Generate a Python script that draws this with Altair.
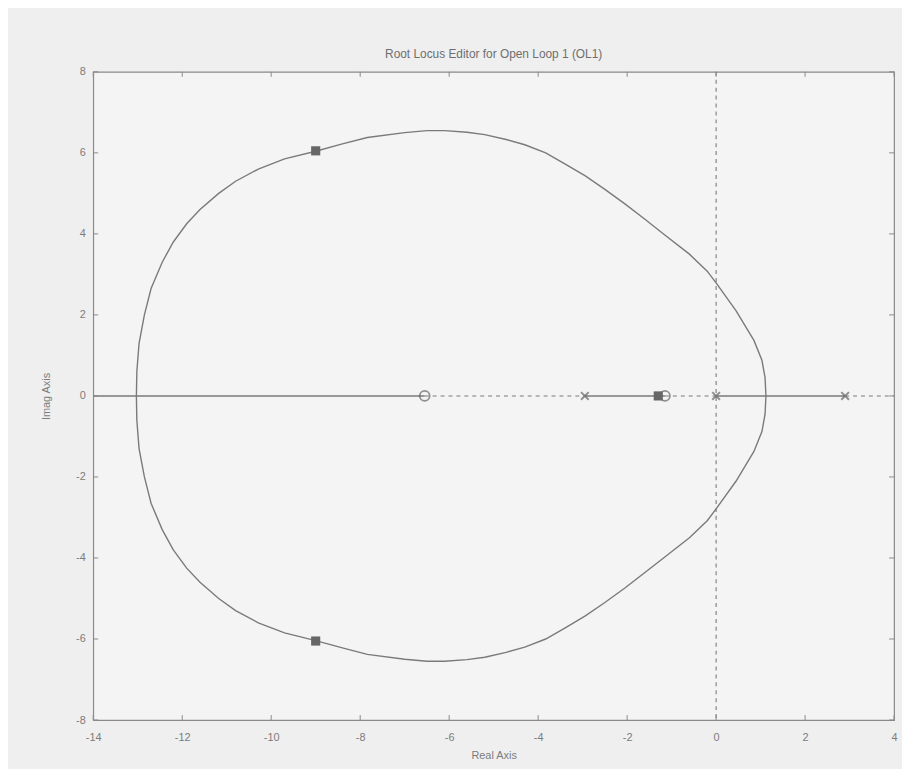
import altair as alt
import pandas as pd

# ---- data ----
# upper half of the closed root-locus branch (lower half is its mirror image)
locus_re = [1.12, 1.10, 1.03, 0.85, 0.45, 0.0, -0.2, -0.6, -1.16, -1.6, -2.05, -2.5,
            -2.94, -3.4, -3.83, -4.3, -4.72, -5.2, -5.6, -6.1, -6.5, -7.0, -7.84,
            -8.4, -9.0, -9.7, -10.29, -10.8, -11.18, -11.6, -11.9, -12.2, -12.45,
            -12.7, -12.85, -12.97, -13.02, -13.03]
locus_im = [0.0, 0.45, 0.88, 1.37, 2.1, 2.79, 3.08, 3.5, 3.98, 4.36, 4.74, 5.1,
            5.43, 5.73, 6.0, 6.2, 6.33, 6.45, 6.51, 6.55, 6.55, 6.5, 6.38,
            6.22, 6.04, 5.85, 5.6, 5.3, 5.0, 4.6, 4.25, 3.8, 3.3,
            2.65, 2.0, 1.3, 0.6, 0.0]

zero_re = [-6.55, -1.15]
pole_re = [-2.95, 0.0, 2.9]
clpole_re = [-9.0, -9.0, -1.3]
clpole_im = [6.05, -6.05, 0.0]

solid_start = [-14.0, -2.95, 0.0]
solid_end = [-6.55, -1.15, 2.9]
dash_start = [-6.55, -1.15, 2.9]
dash_end = [-2.95, 0.0, 4.0]

x_ticks = [-14, -12, -10, -8, -6, -4, -2, 0, 2, 4]
y_ticks = [-8, -6, -4, -2, 0, 2, 4, 6, 8]

TITLE = "Root Locus Editor for Open Loop 1 (OL1)"
X_TITLE = "Real Axis"
Y_TITLE = "Imag Axis"

# ---- tables ----
up = list(zip(locus_re, locus_im))
low = [(r, -i) for r, i in reversed(up[:-1])]
loop = up + low
locus_df = pd.DataFrame({"re": [p[0] for p in loop], "im": [p[1] for p in loop],
                         "k": list(range(len(loop)))})
zeros_df = pd.DataFrame({"re": zero_re, "im": [0.0] * len(zero_re)})
poles_df = pd.DataFrame({"re": pole_re, "im": [0.0] * len(pole_re)})
cl_df = pd.DataFrame({"re": clpole_re, "im": clpole_im})
solid_df = pd.DataFrame({"re": solid_start, "b": solid_end, "im": [0.0] * 3})
dash_df = pd.DataFrame({"re": dash_start, "b": dash_end, "im": [0.0] * 3})
vline_df = pd.DataFrame({"re": [0.0]})
xt_df = pd.DataFrame({"re": x_ticks})
yt_df = pd.DataFrame({"im": y_ticks})

W, H = 808, 654
FONT = "Liberation Sans"
LINE = "#7a7a7a"
MARK = "#666666"
TXT = "#7c7c7c"

xs = alt.Scale(domain=[-14, 4], nice=False, zero=False)
ys = alt.Scale(domain=[-8, 8], nice=False, zero=False)

x_axis = alt.Axis(values=x_ticks, title=X_TITLE, ticks=False, domain=False, grid=False,
                  labelPadding=12, titlePadding=7, labelFlush=False,
                  labelExpr="'' + datum.value")
y_axis = alt.Axis(values=y_ticks, title=Y_TITLE, ticks=False, domain=False, grid=False,
                  labelPadding=8, titlePadding=24, labelFlush=False,
                  labelExpr="'' + datum.value")

X = alt.X("re:Q", scale=xs, axis=x_axis)
Y = alt.Y("im:Q", scale=ys, axis=y_axis)

locus = alt.Chart(locus_df).mark_line(color=LINE, strokeWidth=1.4).encode(
    x=X, y=Y, order="k:Q")

solid = alt.Chart(solid_df).mark_rule(color=LINE, strokeWidth=1.4).encode(
    x=X, x2="b:Q", y=Y)

dashed = alt.Chart(dash_df).mark_rule(color=LINE, strokeWidth=1.1, strokeDash=[4, 4]).encode(
    x=X, x2="b:Q", y=Y)

vline = alt.Chart(vline_df).mark_rule(
    color=LINE, strokeWidth=1.1, strokeDash=[4, 4]).encode(x=X)

zeros = alt.Chart(zeros_df).mark_point(shape="circle", filled=False, size=100,
                                        strokeWidth=1.8, color=MARK).encode(x=X, y=Y)

poles = alt.Chart(poles_df).mark_point(shape="M-1,-1L1,1M1,-1L-1,1", filled=False,
                                        size=60, strokeWidth=2, color=MARK).encode(x=X, y=Y)

clpoles = alt.Chart(cl_df).mark_square(size=85, color=MARK, opacity=1).encode(x=X, y=Y)

# inward ticks on the box
TK = "#8a8a8a"
tb = alt.Chart(xt_df).mark_rule(color=TK).encode(x=X, y=alt.value(H - 5), y2=alt.value(H))
tt = alt.Chart(xt_df).mark_rule(color=TK).encode(x=X, y=alt.value(0), y2=alt.value(5))
tl = alt.Chart(yt_df).mark_rule(color=TK).encode(y=Y, x=alt.value(0), x2=alt.value(5))
tr = alt.Chart(yt_df).mark_rule(color=TK).encode(y=Y, x=alt.value(W - 5), x2=alt.value(W))

chart = alt.layer(
    locus, vline, solid, dashed, zeros, poles, clpoles, tb, tt, tl, tr
).properties(
    width=W, height=H,
    title=alt.TitleParams(TITLE, font=FONT, fontSize=12, fontWeight="normal",
                          color="#6e6e6e", anchor="middle", offset=5),
    padding={"left": 86, "top": 61, "right": 8, "bottom": 46},
    autosize=alt.AutoSizeParams(type="none"),
).configure(
    background="#efefef"
).configure_view(
    fill="#f4f4f4", stroke="#8a8a8a", strokeWidth=1.2
).configure_axis(
    labelFont=FONT, labelFontSize=11, labelColor=TXT,
    titleFont=FONT, titleFontSize=11, titleColor=TXT, titleFontWeight="normal"
)

chart.save("out.html", embed_options={"renderer": "svg", "actions": False})
